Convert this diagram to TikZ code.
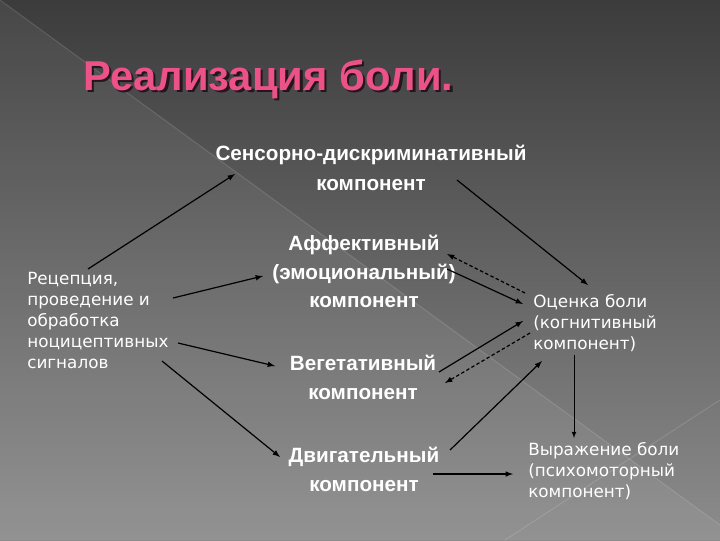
\documentclass[tikz,border=0pt]{standalone}
\usepackage{fontspec}
\setmainfont{DejaVu Sans}
\newfontfamily\headfont{Liberation Sans}

\definecolor{bgtop}{RGB}{60,60,60}
\definecolor{bgbottom}{RGB}{140,140,140}
\definecolor{titlepink}{RGB}{236,82,136}
\definecolor{titleshade}{RGB}{38,22,28}

\tikzset{
  side/.style={text=white, align=left, inner sep=0pt, font=\fontsize{12.6}{15.75}\selectfont},
  part/.style={text=white, align=center, inner sep=0pt, font=\headfont\bfseries\fontsize{15.5}{21.4}\selectfont},
  arr/.style={->, >=latex, line width=0.9pt, black},
  back/.style={arr, dash pattern=on 2.6pt off 1.8pt}
}

\begin{document}
\begin{tikzpicture}[x=0.75pt,y=-0.75pt]
\useasboundingbox (0,0) rectangle (720,540);

% background
\shade[top color=bgtop, bottom color=bgbottom] (0,0) rectangle (720,540);
\fill[white, opacity=0.06] (0,0) -- (720,525) -- (720,540) -- (0,540) -- cycle;
\draw[white, opacity=0.12, line width=0.8pt] (0,0) -- (720,525);
\draw[white, opacity=0.12, line width=0.8pt] (720,400) -- (505,540);

% title
\node[anchor=base west, inner sep=0pt, text=titleshade, font=\headfont\bfseries\fontsize{31.3}{36}\selectfont] (titleshadow) at (85.5,92.5) {Реализация боли.};
\node[anchor=base west, inner sep=0pt, text=titlepink, font=\headfont\bfseries\fontsize{31.3}{36}\selectfont] (title) at (83,90) {Реализация боли.};

% components
\node[part, font=\headfont\bfseries\fontsize{15.5}{22.5}\selectfont, anchor=north] (sens) at (371,145) {Сенсорно-дискриминативный\\компонент};
\node[part, anchor=north] (aff) at (364,235) {Аффективный\\(эмоциональный)\\компонент};
\node[part, anchor=north] (veg) at (363,355) {Вегетативный\\компонент};
\node[part, anchor=north] (dvig) at (364,447) {Двигательный\\компонент};

\node[side, anchor=north west] (rec) at (27,272) {Рецепция,\\проведение и\\обработка\\ноцицептивных\\сигналов};
\node[side, anchor=north west] (ocen) at (533,294) {Оценка боли\\(когнитивный\\компонент)};
\node[side, anchor=north west] (vyr) at (528,442) {Выражение боли\\(психомоторный\\компонент)};

% arrows
\draw[arr] ([shift={(61,-3)}]rec.north west) -- ([shift={(-136,29)}]sens.north);
\draw[arr] ([shift={(146,26)}]rec.north west) -- ([shift={(-101,41)}]aff.north);
\draw[arr] ([shift={(151,71)}]rec.north west) -- ([shift={(-88,11)}]veg.north);
\draw[arr] ([shift={(135,89)}]rec.north west) -- ([shift={(-84,10)}]dvig.north);

\draw[arr] ([shift={(86,35)}]sens.north) -- ([shift={(55,-9)}]ocen.north west);
\draw[arr] ([shift={(83,34)}]aff.north) -- ([shift={(-10,10)}]ocen.north west);
\draw[back] ([shift={(-8,-1)}]ocen.north west) -- ([shift={(83,19)}]aff.north);
\draw[arr] ([shift={(76,17)}]veg.north) -- ([shift={(-10,27)}]ocen.north west);
\draw[back] ([shift={(-3,39)}]ocen.north west) -- ([shift={(82,28)}]veg.north);
\draw[arr] ([shift={(86,3)}]dvig.north) -- ([shift={(9,67)}]ocen.north west);

\draw[arr] ([shift={(69,27)}]dvig.north) -- ([shift={(-15,32)}]vyr.north west);
\draw[arr, line width=0.6pt] ([shift={(41,61)}]ocen.north west) -- ([shift={(46,-4)}]vyr.north west);
\end{tikzpicture}
\end{document}
